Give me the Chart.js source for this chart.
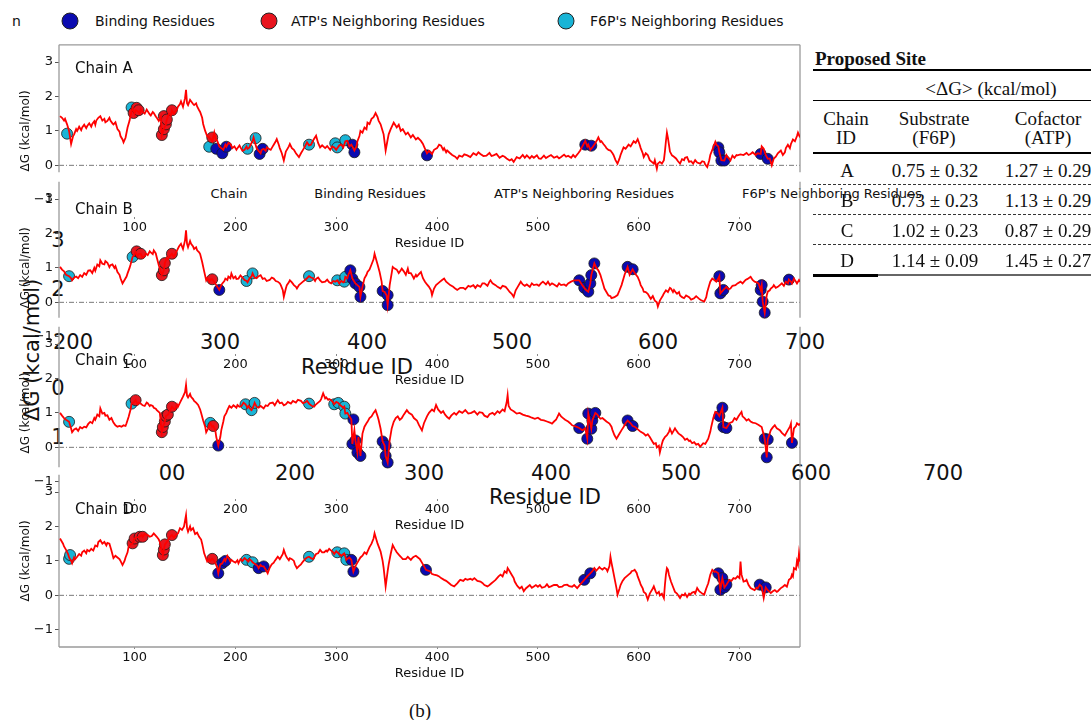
<!DOCTYPE html>
<html>
<head>
<meta charset="utf-8">
<script src="https://cdn.jsdelivr.net/npm/chart.js@4.4.1/dist/chart.umd.min.js"></script>
<style>
  body { margin: 0; width: 1091px; height: 720px; overflow: hidden; background: #fff; position: relative;
         font-family: "DejaVu Sans", sans-serif; color: #111; }
  canvas { position: absolute; left: 0; }
  .t { position: absolute; white-space: nowrap; transform: translate(-50%, -50%); line-height: 1; }
  .l { position: absolute; white-space: nowrap; transform: translate(0, -50%); line-height: 1; }
  .dot { position: absolute; width: 15px; height: 15px; border-radius: 50%; border: 1px solid #222; transform: translate(-50%, -50%); }
  .big { font-size: 21px; }
  .serif { font-family: "Liberation Serif", "Times New Roman", serif; font-size: 19px; }
  .rule { position: absolute; left: 813px; width: 278px; }
</style>
</head>
<body>
<!-- top legend -->
<div class="l" style="left:12px;top:21px;font-size:14px">n</div>
<div class="dot" style="left:70px;top:21px;background:#0b0bb0"></div>
<div class="l" style="left:95px;top:21px;font-size:14px">Binding Residues</div>
<div class="dot" style="left:269px;top:21px;background:#e8141e"></div>
<div class="l" style="left:291px;top:21px;font-size:14px">ATP's Neighboring Residues</div>
<div class="dot" style="left:566px;top:21px;background:#19b4d6"></div>
<div class="l" style="left:590px;top:21px;font-size:14px">F6P's Neighboring Residues</div>

<!-- stray legend row and oversized labels left over in the figure -->
<div class="t" style="left:229px;top:193px;font-size:13px">Chain</div>
<div class="t" style="left:370px;top:193px;font-size:13px">Binding Residues</div>
<div class="t" style="left:584px;top:193px;font-size:13px">ATP's Neighboring Residues</div>
<div class="t" style="left:832px;top:193px;font-size:13px">F6P's Neighboring Residues</div>

<div class="t big" style="left:58px;top:240px">3</div>
<div class="t big" style="left:58px;top:289px">2</div>
<div class="t big" style="left:58px;top:388px">0</div>
<div class="t big" style="left:58px;top:437px">1</div>
<div class="t big" style="left:32px;top:350px;transform:translate(-50%,-50%) rotate(-90deg)">ΔG (kcal/mol)</div>
<div class="t big" style="left:73px;top:342px">200</div>
<div class="t big" style="left:220px;top:342px">300</div>
<div class="t big" style="left:367px;top:342px">400</div>
<div class="t big" style="left:512px;top:342px">500</div>
<div class="t big" style="left:658px;top:342px">600</div>
<div class="t big" style="left:805px;top:342px">700</div>
<div class="t big" style="left:357px;top:367px">Residue ID</div>
<div class="t big" style="left:172px;top:473px">00</div>
<div class="t big" style="left:295px;top:473px">200</div>
<div class="t big" style="left:424px;top:473px">300</div>
<div class="t big" style="left:551px;top:473px">400</div>
<div class="t big" style="left:681px;top:473px">500</div>
<div class="t big" style="left:811px;top:473px">600</div>
<div class="t big" style="left:943px;top:473px">700</div>
<div class="t big" style="left:545px;top:497px">Residue ID</div>

<canvas id="cA" width="810" height="227" style="top:35px"></canvas>
<canvas id="cB" width="810" height="227" style="top:172px"></canvas>
<canvas id="cC" width="810" height="227" style="top:317px"></canvas>
<canvas id="cD" width="810" height="227" style="top:465px"></canvas>

<!-- table -->
<div class="l serif" style="left:815px;top:58px;font-weight:bold">Proposed Site</div>
<div class="rule" style="top:69px;height:1.5px;background:#000"></div>
<div class="t serif" style="left:991px;top:88px">&lt;ΔG&gt; (kcal/mol)</div>
<div class="rule" style="top:100px;height:1px;background:#000"></div>
<div class="t serif" style="left:846px;top:118px">Chain</div>
<div class="t serif" style="left:846px;top:137px">ID</div>
<div class="t serif" style="left:934px;top:118px">Substrate</div>
<div class="t serif" style="left:934px;top:137px">(F6P)</div>
<div class="t serif" style="left:1048px;top:118px">Cofactor</div>
<div class="t serif" style="left:1048px;top:137px">(ATP)</div>
<div class="rule" style="top:152px;height:1.5px;background:#000"></div>
<div id="rows"></div>
<div style="position:absolute;left:813px;top:274px;width:65px;height:2.5px;background:#000"></div>
<div style="position:absolute;left:878px;top:274px;width:213px;height:2px;background:#666"></div>

<div class="t serif" style="left:420px;top:710px">(b)</div>

<script>
// ΔG profile per chain: [residue, ΔG (kcal/mol)]
const lineA = [[26,1.43],[28,1.38],[30,1.3],[31,1.35],[33,1.19],[35,1.0],[37,0.62],[39,0.85],[40,0.9],[42,1.05],[43,1.0],[45,1.12],[47,1.02],[48,1.1],[50,1.18],[52,1.08],[53,1.14],[55,1.22],[57,1.12],[58,1.2],[60,1.28],[61,1.18],[62,1.3],[64,1.38],[66,1.43],[68,1.3],[70,1.35],[71,1.25],[73,1.29],[75,1.38],[76,1.3],[78,1.22],[79,1.19],[81,1.25],[83,1.05],[85,0.98],[86,0.85],[88,0.75],[89,0.67],[91,0.8],[93,1.1],[95,1.3],[96,1.45],[98,1.67],[100,1.5],[101,1.6],[103,1.57],[105,1.5],[106,1.62],[108,1.55],[110,1.5],[112,1.62],[113,1.57],[115,1.48],[116,1.45],[118,1.55],[119,1.52],[121,1.42],[122,1.38],[124,1.29],[126,1.4],[127,0.88],[129,1.05],[131,1.19],[132,1.33],[134,1.5],[136,1.45],[137,1.6],[139,1.5],[140,1.55],[142,1.62],[143,1.7],[145,1.78],[146,1.86],[148,1.7],[150,1.95],[151,2.19],[152,1.8],[153,1.75],[155,1.9],[156,1.86],[158,1.78],[159,1.75],[161,1.8],[162,1.71],[164,1.6],[165,1.55],[167,1.38],[168,1.2],[170,1.0],[172,0.85],[174,0.81],[176,0.75],[177,0.7],[179,0.95],[180,0.8],[182,0.71],[184,0.55],[186,0.5],[188,0.45],[190,0.6],[191,0.54],[193,0.65],[195,0.62],[197,0.5],[199,0.55],[201,0.45],[202,0.5],[204,0.58],[205,0.52],[207,0.42],[209,0.45],[211,0.55],[212,0.48],[214,0.52],[215,0.6],[217,0.7],[218,0.81],[220,0.6],[221,0.5],[223,0.42],[225,0.35],[226,0.45],[228,0.48],[230,0.42],[231,0.52],[233,0.48],[235,0.45],[237,0.55],[238,0.6],[240,0.7],[241,0.76],[243,0.6],[244,0.5],[246,0.35],[248,0.14],[250,0.4],[251,0.45],[253,0.55],[254,0.62],[256,0.5],[258,0.45],[260,0.35],[263,0.24],[265,0.35],[267,0.45],[269,0.55],[271,0.67],[273,0.58],[275,0.6],[277,0.72],[280,0.86],[282,0.65],[284,0.52],[286,0.58],[289,0.5],[291,0.56],[294,0.45],[296,0.55],[298,0.52],[300,0.45],[301,0.5],[303,0.58],[305,0.6],[307,0.52],[309,0.7],[311,0.71],[313,0.55],[315,0.6],[318,0.43],[320,0.55],[321,0.7],[323,0.85],[324,1.0],[326,0.95],[328,1.1],[330,1.05],[331,1.24],[333,1.2],[335,1.35],[337,1.4],[339,1.52],[341,1.4],[342,1.3],[344,1.19],[346,1.0],[347,0.9],[349,0.43],[351,0.75],[352,0.9],[354,1.05],[357,1.24],[359,1.15],[360,1.1],[362,1.18],[364,1.0],[366,1.05],[369,0.9],[371,0.95],[374,0.81],[376,0.88],[379,0.75],[381,0.8],[384,0.71],[386,0.62],[387,0.55],[390,0.35],[392,0.42],[395,0.33],[397,0.45],[400,0.5],[402,0.6],[404,0.57],[406,0.45],[407,0.5],[409,0.38],[410,0.43],[413,0.35],[415,0.3],[418,0.25],[420,0.19],[422,0.28],[425,0.25],[427,0.32],[430,0.29],[433,0.24],[436,0.35],[439,0.3],[441,0.38],[443,0.33],[446,0.27],[449,0.28],[452,0.36],[454,0.27],[456,0.29],[459,0.33],[462,0.22],[465,0.28],[467,0.25],[469,0.2],[472,0.14],[474,0.18],[476,0.1],[479,0.24],[482,0.2],[485,0.3],[487,0.22],[489,0.29],[492,0.2],[494,0.27],[496,0.22],[499,0.29],[501,0.2],[503,0.19],[506,0.28],[508,0.21],[510,0.25],[513,0.3],[516,0.22],[519,0.26],[521,0.2],[523,0.24],[526,0.31],[528,0.25],[530,0.28],[533,0.22],[535,0.3],[537,0.24],[540,0.35],[542,0.43],[545,0.6],[547,0.71],[549,0.55],[550,0.6],[552,0.45],[554,0.52],[557,0.65],[559,0.75],[560,0.81],[562,0.68],[563,0.7],[565,0.62],[567,0.55],[568,0.5],[570,0.45],[572,0.43],[574,0.35],[575,0.3],[577,0.15],[579,0.05],[581,0.2],[582,0.3],[584,0.45],[585,0.52],[587,0.48],[590,0.6],[592,0.55],[595,0.7],[597,0.65],[599,0.76],[601,0.6],[602,0.5],[604,0.35],[605,0.24],[607,0.35],[609,0.3],[611,0.15],[613,0.1],[615,0.05],[616,0.15],[618,-0.1],[619,0.05],[621,0.1],[623,0.05],[625,0.15],[626,0.4],[627,0.7],[628,0.95],[629,0.8],[630,0.6],[631,0.4],[633,0.29],[635,0.25],[637,0.2],[639,0.12],[641,0.05],[643,0.18],[645,0.15],[646,0.22],[648,0.24],[650,0.1],[652,0.12],[654,0.05],[656,0.15],[658,0.08],[661,0.05],[663,0.12],[665,0.1],[666,0.02],[668,-0.05],[670,0.15],[671,0.3],[673,0.45],[674,0.52],[676,0.68],[677,0.6],[679,0.55],[680,0.38],[682,0.15],[685,0.14],[687,0.3],[688,0.25],[690,0.18],[691,0.14],[693,0.28],[695,0.22],[697,0.3],[698,0.29],[701,0.32],[704,0.3],[707,0.36],[709,0.3],[711,0.33],[713,0.38],[716,0.3],[718,0.35],[721,0.33],[722,0.55],[724,0.48],[726,0.3],[728,0.19],[730,0.2],[732,0.0],[734,0.2],[736,0.25],[738,0.35],[741,0.43],[743,0.3],[745,0.38],[746,0.5],[748,0.6],[750,0.5],[751,0.62],[753,0.75],[755,0.7],[757,0.85],[758,0.95],[760,0.81]];
const lineB = [[26,1.03],[28,0.95],[30,0.9],[32,0.8],[35,0.76],[37,0.7],[38,0.64],[40,0.72],[42,0.75],[44,0.7],[46,0.79],[48,0.74],[50,0.85],[52,0.8],[54,0.92],[56,0.93],[58,0.85],[60,1.0],[61,0.92],[63,1.1],[65,1.05],[66,1.22],[68,1.12],[70,1.1],[71,1.2],[73,1.15],[75,1.02],[76,1.08],[78,1.1],[80,1.0],[81,1.05],[83,0.88],[85,0.8],[86,0.7],[88,0.55],[90,0.65],[92,0.75],[93,0.84],[95,1.0],[96,1.1],[98,1.32],[100,1.38],[101,1.46],[103,1.35],[104,1.4],[106,1.41],[108,1.3],[110,1.35],[111,1.42],[113,1.37],[115,1.48],[116,1.45],[118,1.4],[119,1.51],[121,1.42],[122,1.3],[124,1.08],[127,0.79],[129,0.93],[130,1.14],[132,1.3],[133,1.25],[135,1.35],[137,1.41],[139,1.32],[141,1.45],[142,1.5],[144,1.62],[146,1.7],[148,1.55],[150,1.8],[151,2.09],[152,1.7],[153,1.6],[155,1.78],[156,1.7],[158,1.62],[159,1.55],[161,1.6],[162,1.51],[164,1.45],[165,1.4],[167,1.17],[169,0.9],[171,0.64],[172,0.7],[174,0.6],[175,0.66],[177,0.67],[179,0.6],[180,0.55],[182,0.45],[184,0.36],[186,0.5],[187,0.55],[189,0.62],[190,0.69],[192,0.65],[193,0.75],[195,0.7],[196,0.84],[198,0.7],[200,0.75],[201,0.68],[203,0.69],[205,0.78],[207,0.72],[209,0.65],[211,0.62],[212,0.58],[214,0.7],[216,0.75],[217,0.84],[219,0.72],[221,0.7],[223,0.76],[225,0.79],[227,0.68],[229,0.7],[231,0.62],[234,0.65],[236,0.72],[238,0.69],[240,0.62],[242,0.6],[244,0.55],[245,0.5],[247,0.35],[248,0.16],[250,0.4],[251,0.5],[253,0.58],[254,0.64],[256,0.58],[258,0.5],[260,0.45],[261,0.4],[263,0.5],[265,0.55],[267,0.6],[269,0.65],[271,0.7],[273,0.76],[275,0.72],[277,0.7],[279,0.62],[280,0.68],[282,0.72],[284,0.64],[286,0.58],[289,0.6],[291,0.66],[293,0.58],[295,0.55],[297,0.62],[299,0.6],[301,0.64],[303,0.55],[305,0.62],[307,0.58],[308,0.6],[309,0.74],[311,0.7],[312,0.8],[314,0.93],[316,0.69],[319,0.55],[321,0.5],[323,0.45],[324,0.16],[326,0.45],[328,0.7],[330,0.8],[331,0.88],[333,0.95],[335,1.1],[337,1.25],[338,1.41],[340,1.2],[341,1.1],[343,0.88],[345,0.6],[346,0.33],[348,0.3],[350,0.2],[351,-0.08],[353,0.5],[355,0.85],[356,1.03],[358,0.98],[360,0.95],[362,0.85],[364,0.93],[365,0.98],[367,0.9],[369,0.8],[371,0.98],[372,0.85],[374,0.85],[376,0.75],[377,0.69],[379,0.8],[380,0.75],[382,0.82],[384,0.88],[386,0.7],[388,0.6],[390,0.52],[392,0.45],[394,0.35],[395,0.21],[397,0.4],[399,0.5],[401,0.55],[403,0.6],[405,0.65],[407,0.69],[409,0.6],[411,0.55],[413,0.5],[416,0.45],[418,0.4],[420,0.36],[423,0.42],[426,0.42],[428,0.38],[431,0.48],[433,0.45],[436,0.5],[438,0.42],[440,0.5],[443,0.45],[445,0.55],[447,0.55],[450,0.48],[452,0.6],[453,0.64],[455,0.55],[458,0.5],[460,0.45],[463,0.4],[465,0.48],[468,0.45],[470,0.38],[472,0.3],[474,0.25],[476,0.16],[478,0.35],[480,0.45],[483,0.6],[485,0.52],[487,0.48],[489,0.52],[492,0.45],[494,0.55],[496,0.5],[499,0.52],[501,0.48],[503,0.55],[505,0.6],[508,0.52],[510,0.6],[512,0.5],[514,0.55],[516,0.52],[519,0.46],[521,0.55],[523,0.5],[526,0.52],[528,0.48],[530,0.55],[533,0.6],[536,0.64],[541,0.64],[544,0.5],[546,0.42],[548,0.35],[550,0.31],[552,0.55],[553,0.79],[556,1.13],[558,1.0],[560,0.93],[562,0.8],[563,0.7],[565,0.5],[566,0.4],[568,0.3],[570,0.2],[572,0.18],[573,0.12],[576,0.15],[579,0.21],[581,0.35],[583,0.5],[585,0.7],[586,0.8],[589,1.03],[591,0.8],[594,0.96],[596,0.85],[599,0.74],[601,0.6],[602,0.5],[604,0.4],[605,0.31],[607,0.3],[609,0.25],[611,0.15],[612,0.1],[614,0.18],[616,0.05],[618,0.0],[619,-0.12],[621,0.05],[622,0.1],[624,0.2],[625,0.26],[627,0.35],[629,0.3],[631,0.42],[632,0.4],[634,0.3],[635,0.36],[637,0.28],[638,0.25],[640,0.3],[641,0.2],[643,0.15],[645,0.12],[647,0.2],[650,0.15],[652,0.08],[655,0.12],[657,0.18],[660,0.1],[662,0.06],[665,0.02],[667,0.15],[668,0.3],[670,0.5],[671,0.6],[673,0.69],[675,0.65],[677,0.6],[679,0.7],[680,0.76],[681,0.26],[684,0.36],[686,0.42],[687,0.45],[689,0.38],[691,0.4],[693,0.48],[696,0.5],[698,0.55],[701,0.6],[703,0.55],[706,0.65],[708,0.68],[711,0.74],[713,0.65],[715,0.6],[717,0.58],[719,0.55],[721,0.36],[722,0.5],[723,0.02],[725,-0.3],[727,0.2],[728,0.31],[730,0.35],[731,0.4],[733,0.45],[734,0.5],[736,0.42],[738,0.45],[740,0.5],[742,0.55],[744,0.48],[746,0.6],[748,0.55],[749,0.66],[751,0.6],[752,0.55],[754,0.69],[756,0.6],[757,0.55],[759,0.65],[760,0.6]];
const lineC = [[26,1.0],[28,0.92],[30,0.85],[32,0.8],[35,0.74],[37,0.55],[38,0.44],[40,0.52],[42,0.55],[44,0.48],[46,0.59],[48,0.55],[50,0.6],[52,0.58],[54,0.68],[56,0.74],[58,0.7],[60,0.85],[61,0.8],[63,0.95],[65,0.9],[66,1.13],[68,0.98],[70,1.0],[71,0.92],[73,0.93],[75,0.8],[77,0.85],[79,0.72],[81,0.64],[83,0.6],[85,0.62],[87,0.6],[89,0.64],[91,0.62],[92,0.7],[94,0.88],[96,1.1],[97,1.27],[99,1.3],[101,1.37],[103,1.25],[104,1.3],[106,1.27],[108,1.22],[110,1.2],[112,1.3],[113,1.28],[115,1.2],[116,1.23],[118,1.2],[119,1.15],[121,1.12],[122,1.08],[125,1.0],[127,0.44],[128,0.59],[130,0.75],[131,0.91],[133,0.95],[135,1.05],[137,1.18],[139,1.12],[140,1.1],[142,1.25],[143,1.18],[145,1.3],[148,1.47],[150,1.6],[151,1.81],[152,1.5],[153,1.45],[155,1.55],[156,1.47],[158,1.4],[159,1.35],[161,1.3],[163,1.23],[165,1.1],[166,1.0],[168,0.78],[170,0.6],[171,0.44],[173,0.55],[175,0.71],[177,0.6],[178,0.62],[180,0.5],[181,0.3],[183,0.05],[185,0.3],[186,0.5],[188,0.75],[189,0.9],[191,1.0],[192,1.08],[194,1.2],[196,1.15],[198,1.22],[199,1.2],[201,1.15],[202,1.23],[204,1.18],[206,1.2],[208,1.3],[210,1.25],[212,1.15],[213,1.2],[215,1.1],[216,1.08],[218,1.2],[219,1.29],[221,1.18],[223,1.15],[225,1.2],[228,1.13],[230,1.22],[232,1.2],[234,1.28],[237,1.3],[239,1.22],[242,1.37],[244,1.28],[246,1.3],[248,1.22],[250,1.25],[252,1.32],[255,1.27],[257,1.35],[260,1.3],[262,1.38],[265,1.35],[267,1.28],[269,1.3],[271,1.35],[273,1.27],[275,1.22],[276,1.2],[278,1.18],[280,1.25],[282,1.3],[284,1.35],[285,1.4],[287,1.57],[289,1.42],[290,1.45],[292,1.38],[293,1.4],[295,1.37],[297,1.3],[298,1.25],[300,1.32],[302,1.29],[304,1.22],[305,1.2],[307,1.15],[308,1.18],[309,0.98],[311,1.0],[313,0.9],[315,0.81],[316,0.1],[318,0.5],[319,0.2],[321,-0.15],[322,0.3],[324,-0.25],[326,0.4],[328,0.6],[330,0.7],[331,0.74],[333,0.85],[335,0.9],[337,1.0],[339,1.08],[341,0.9],[342,0.8],[344,0.54],[346,0.17],[348,0.05],[349,-0.25],[351,-0.44],[353,0.2],[355,0.55],[357,0.74],[359,0.85],[361,0.9],[363,0.8],[365,0.85],[367,0.95],[370,1.08],[372,1.0],[375,0.95],[377,0.85],[380,0.78],[382,0.65],[385,0.49],[387,0.7],[390,0.9],[392,1.0],[395,1.1],[397,1.05],[399,1.23],[401,1.1],[404,1.0],[406,1.05],[408,0.95],[410,0.88],[412,0.83],[414,0.92],[417,1.0],[419,0.95],[422,1.05],[425,1.0],[428,1.08],[431,0.98],[434,1.0],[437,1.05],[440,0.95],[442,1.02],[445,1.0],[447,0.92],[450,0.88],[452,0.96],[455,1.0],[457,0.95],[460,1.05],[462,1.0],[465,1.1],[467,1.05],[468,1.18],[469,1.3],[470,1.52],[471,1.2],[473,1.1],[476,1.05],[479,0.98],[482,1.0],[485,0.95],[488,0.92],[491,0.9],[494,0.86],[497,0.83],[500,0.86],[503,0.8],[506,0.78],[509,0.75],[512,0.72],[514,0.69],[516,0.75],[518,0.8],[521,0.98],[523,0.9],[525,0.85],[527,0.8],[530,0.75],[532,0.7],[534,0.64],[536,0.62],[538,0.6],[541,0.56],[544,0.5],[547,0.55],[549,0.25],[550,0.98],[553,0.54],[554,0.78],[557,1.0],[559,0.95],[560,0.9],[562,0.83],[564,0.85],[566,0.8],[568,0.75],[571,0.69],[573,0.6],[574,0.5],[576,0.35],[578,0.25],[580,0.35],[581,0.4],[583,0.5],[585,0.59],[587,0.7],[589,0.78],[592,0.7],[594,0.62],[596,0.6],[598,0.55],[600,0.5],[602,0.45],[605,0.4],[607,0.34],[609,0.38],[611,0.3],[613,0.2],[615,0.1],[617,0.12],[618,0.0],[620,0.05],[621,-0.15],[623,0.1],[624,0.2],[626,0.3],[628,0.35],[630,0.45],[631,0.54],[633,0.4],[634,0.45],[636,0.55],[637,0.5],[639,0.42],[640,0.39],[642,0.35],[644,0.3],[646,0.22],[648,0.25],[650,0.18],[651,0.2],[653,0.12],[655,0.15],[657,0.08],[659,0.1],[661,0.02],[662,0.05],[664,0.12],[666,0.1],[668,0.2],[669,0.25],[671,0.45],[672,0.6],[674,0.85],[676,1.03],[678,1.0],[680,0.91],[683,1.15],[684,0.59],[687,0.56],[689,0.65],[690,0.7],[693,0.74],[695,0.85],[697,0.8],[699,0.9],[702,1.03],[703,0.9],[705,0.85],[707,0.78],[709,0.82],[711,0.75],[713,0.72],[716,0.7],[719,0.65],[722,0.59],[725,0.25],[727,-0.29],[728,0.23],[730,0.4],[731,0.5],[733,0.58],[735,0.64],[737,0.55],[740,0.5],[742,0.42],[745,0.34],[747,0.45],[748,0.5],[750,0.6],[751,0.69],[752,0.13],[754,0.55],[756,0.62],[757,0.7],[759,0.65],[760,0.69]];
const lineD = [[26,1.65],[27,1.6],[29,1.5],[30,1.42],[32,1.32],[34,1.2],[35,1.1],[37,1.0],[38,0.93],[40,1.1],[41,1.05],[43,1.12],[45,1.2],[47,1.15],[48,1.25],[50,1.3],[52,1.22],[53,1.32],[55,1.28],[57,1.35],[59,1.3],[61,1.45],[63,1.42],[64,1.55],[66,1.6],[68,1.5],[70,1.55],[72,1.45],[73,1.52],[75,1.5],[77,1.3],[79,1.08],[81,1.15],[83,1.1],[85,1.05],[86,1.0],[88,0.88],[90,1.0],[91,1.1],[93,1.25],[94,1.41],[96,1.48],[98,1.51],[100,1.65],[102,1.68],[105,1.7],[107,1.75],[108,1.7],[110,1.78],[113,1.75],[115,1.7],[117,1.72],[119,1.8],[122,1.7],[124,1.62],[125,1.55],[128,1.17],[130,1.48],[132,1.55],[133,1.6],[135,1.7],[137,1.75],[139,1.68],[140,1.72],[142,1.78],[143,1.8],[145,1.95],[147,1.9],[149,2.0],[151,2.33],[152,1.95],[153,1.85],[155,2.0],[156,1.89],[158,1.95],[160,1.78],[162,1.82],[164,1.7],[166,1.62],[167,1.5],[169,1.22],[172,0.98],[174,1.05],[175,1.0],[177,1.06],[179,1.0],[180,0.95],[182,0.8],[183,0.64],[185,0.9],[187,0.93],[189,1.05],[190,1.0],[192,1.15],[193,1.1],[195,0.98],[196,1.03],[198,0.98],[200,0.95],[202,1.02],[203,0.93],[205,1.05],[207,1.0],[209,1.08],[211,1.03],[213,0.98],[214,1.05],[216,1.0],[217,0.96],[219,0.92],[220,0.9],[222,0.85],[223,0.79],[225,0.88],[226,0.85],[228,0.84],[230,0.75],[232,0.64],[234,0.8],[236,0.9],[238,0.95],[239,1.0],[241,1.08],[242,1.12],[244,1.05],[245,1.1],[247,1.2],[248,1.32],[250,1.15],[251,1.1],[253,1.02],[254,1.08],[256,1.05],[258,1.0],[259,0.9],[261,0.79],[263,0.85],[265,0.9],[267,0.98],[269,1.05],[271,1.1],[273,1.12],[275,1.08],[277,1.05],[279,1.15],[280,1.2],[282,1.22],[284,1.32],[286,1.25],[288,1.25],[290,1.3],[291,1.27],[293,1.35],[295,1.3],[297,1.25],[298,1.2],[300,1.28],[301,1.25],[303,1.2],[305,1.15],[307,1.2],[308,1.22],[310,1.03],[312,1.08],[313,1.1],[315,1.03],[317,0.69],[319,0.85],[320,0.9],[322,1.0],[324,1.1],[326,1.15],[328,1.25],[330,1.2],[331,1.27],[333,1.4],[335,1.5],[337,1.65],[338,1.8],[340,1.6],[341,1.5],[343,1.35],[344,1.27],[346,1.0],[347,0.8],[349,0.26],[351,0.7],[352,0.9],[354,1.2],[356,1.46],[358,1.35],[360,1.25],[362,1.18],[364,1.12],[366,1.05],[369,1.05],[371,1.12],[374,1.03],[376,1.1],[377,1.12],[379,1.15],[381,1.1],[383,1.05],[385,0.95],[387,0.85],[389,0.74],[391,0.72],[393,0.7],[395,0.62],[397,0.6],[400,0.58],[402,0.55],[404,0.5],[407,0.45],[409,0.42],[412,0.35],[414,0.3],[417,0.26],[419,0.32],[420,0.35],[422,0.42],[423,0.45],[426,0.42],[428,0.48],[430,0.45],[433,0.48],[435,0.45],[437,0.5],[440,0.42],[443,0.4],[445,0.36],[447,0.3],[450,0.26],[452,0.3],[454,0.35],[456,0.4],[458,0.45],[461,0.55],[463,0.6],[465,0.55],[467,0.7],[469,0.65],[470,0.79],[472,0.7],[474,0.6],[476,0.5],[477,0.4],[479,0.3],[480,0.26],[482,0.2],[484,0.25],[486,0.12],[488,0.2],[490,0.25],[492,0.3],[494,0.22],[496,0.26],[498,0.3],[500,0.25],[502,0.3],[504,0.22],[507,0.25],[509,0.32],[511,0.24],[513,0.26],[516,0.3],[519,0.3],[521,0.24],[524,0.25],[526,0.3],[529,0.31],[531,0.27],[534,0.25],[536,0.3],[539,0.21],[541,0.28],[543,0.35],[546,0.45],[549,0.55],[552,0.64],[554,0.7],[556,0.79],[558,0.72],[559,0.75],[561,0.82],[562,0.79],[564,0.75],[566,0.8],[568,0.76],[569,0.7],[571,0.85],[572,1.12],[573,0.95],[574,0.8],[576,0.5],[578,0.2],[579,0.02],[581,0.2],[582,0.3],[584,0.42],[586,0.5],[588,0.55],[590,0.6],[592,0.65],[593,0.7],[595,0.72],[596,0.74],[598,0.65],[599,0.55],[601,0.4],[602,0.31],[604,0.2],[605,0.1],[607,0.05],[609,-0.12],[611,0.05],[612,0.1],[614,0.2],[615,0.26],[617,0.1],[618,0.05],[620,0.1],[621,0.0],[623,0.05],[625,-0.08],[626,0.3],[627,0.6],[628,0.79],[629,0.75],[630,0.6],[632,0.4],[634,0.25],[636,0.1],[638,0.05],[641,-0.08],[643,0.02],[645,0.0],[646,0.05],[648,-0.05],[650,0.05],[651,0.02],[653,0.08],[655,0.1],[656,0.05],[658,0.21],[660,0.12],[661,0.1],[663,0.05],[665,0.02],[667,0.2],[669,0.35],[671,0.6],[673,0.74],[675,0.68],[676,0.7],[679,0.64],[681,0.16],[683,0.5],[685,0.23],[687,0.31],[689,0.4],[690,0.45],[692,0.42],[694,0.5],[696,0.48],[698,0.55],[700,0.5],[701,0.98],[702,0.6],[704,0.4],[706,0.42],[707,0.45],[709,0.3],[711,0.21],[713,0.18],[715,0.15],[717,0.22],[718,0.2],[720,0.31],[722,0.25],[724,-0.08],[726,0.23],[728,0.15],[730,0.1],[731,0.07],[733,0.12],[735,0.15],[737,0.1],[738,0.12],[740,0.18],[741,0.21],[743,0.25],[745,0.3],[747,0.25],[749,0.45],[751,0.5],[752,0.6],[753,0.55],[754,0.79],[756,0.75],[757,1.0],[758,0.9],[759,1.22],[760,0.98]];

// highlighted residues: [residue, ΔG]
const bindA = [[181,0.48],[187,0.35],[191,0.54],[224,0.33],[227,0.48],[316,0.6],[318,0.38],[390,0.29],[547,0.6],[553,0.57],[679,0.52],[680,0.38],[682,0.14],[685,0.14],[721,0.33],[728,0.19]];
const atpA  = [[99,1.52],[102,1.67],[104,1.6],[127,0.88],[129,1.05],[129,1.43],[131,1.19],[132,1.33],[137,1.6],[177,0.81]];
const f6pA  = [[33,0.92],[97,1.68],[174,0.54],[212,0.48],[220,0.79],[273,0.6],[299,0.64],[301,0.52],[309,0.73]];
const bindB = [[184,0.36],[314,0.93],[316,0.69],[319,0.55],[323,0.45],[324,0.16],[346,0.33],[351,0.21],[351,-0.08],[541,0.64],[546,0.42],[550,0.31],[552,0.55],[553,0.79],[556,1.13],[589,1.03],[594,0.96],[680,0.76],[681,0.26],[684,0.36],[721,0.36],[722,0.5],[723,0.02],[725,-0.3],[749,0.66]];
const atpB  = [[102,1.48],[106,1.41],[127,0.79],[129,0.93],[130,1.14],[137,1.41],[177,0.67]];
const f6pB  = [[35,0.76],[98,1.32],[211,0.62],[217,0.84],[273,0.76],[301,0.64],[308,0.6],[309,0.74]];
const bindC = [[183,0.05],[317,0.81],[316,0.1],[319,0.2],[321,-0.15],[324,-0.25],[346,0.17],[349,0.05],[349,-0.25],[351,-0.44],[541,0.56],[549,0.25],[550,0.98],[553,0.54],[554,0.78],[557,1.0],[589,0.78],[594,0.62],[680,0.91],[683,1.15],[684,0.59],[687,0.56],[725,0.25],[728,0.23],[727,-0.29],[752,0.13]];
const atpC  = [[101,1.37],[127,0.44],[128,0.59],[130,0.75],[131,0.91],[133,0.95],[137,1.18],[178,0.62]];
const f6pC  = [[35,0.74],[97,1.27],[175,0.71],[210,1.25],[216,1.08],[219,1.29],[273,1.27],[298,1.25],[302,1.29],[308,1.18],[309,0.98]];
const bindD = [[183,0.64],[187,0.93],[190,1.0],[223,0.79],[228,0.84],[315,1.03],[317,0.69],[389,0.74],[546,0.45],[552,0.64],[679,0.64],[681,0.16],[683,0.5],[685,0.23],[687,0.31],[720,0.31],[726,0.23]];
const atpD  = [[98,1.51],[100,1.65],[105,1.7],[108,1.7],[128,1.17],[129,1.33],[130,1.48],[137,1.75],[177,1.06]];
const f6pD  = [[35,1.06],[36,1.17],[211,1.03],[217,0.96],[273,1.12],[301,1.25],[308,1.22],[310,1.03]];

const xTicks = [100, 200, 300, 400, 500, 600, 700];
const yTicks = [-1, 0, 1, 2, 3];

// table values
const tableChains = ["A", "B", "C", "D"];
const substrateDG = ["0.75 ± 0.32", "0.73 ± 0.23", "1.02 ± 0.23", "1.14 ± 0.09"];
const cofactorDG  = ["1.27 ± 0.29", "1.13 ± 0.29", "0.87 ± 0.29", "1.45 ± 0.27"];

const BLUE = "#0b0bb0", RED = "#e8141e", CYAN = "#19b4d6";

// zero line, spines and the chain name
const panelDeco = {
  id: "panelDeco",
  beforeDatasetsDraw(chart, args, o) {
    const { ctx, chartArea: a, scales: { y } } = chart;
    ctx.save();
    const y0 = y.getPixelForValue(0);
    ctx.strokeStyle = "#555";
    ctx.lineWidth = 0.8;
    ctx.setLineDash([5, 2, 1, 2]);
    ctx.beginPath();
    ctx.moveTo(a.left, y0);
    ctx.lineTo(a.right, y0);
    ctx.stroke();
    ctx.setLineDash([]);

    ctx.strokeStyle = "#9a9a9a";
    ctx.lineWidth = 1.3;
    const yEnd = y.getPixelForValue(o.spineEnd);
    ctx.beginPath();
    ctx.moveTo(a.left, a.top); ctx.lineTo(a.left, yEnd);
    ctx.moveTo(a.right, a.top); ctx.lineTo(a.right, yEnd);
    if (o.top) { ctx.moveTo(a.left, a.top); ctx.lineTo(a.right, a.top); }
    if (o.bottom) { ctx.moveTo(a.left, a.bottom); ctx.lineTo(a.right, a.bottom); }
    ctx.stroke();

    ctx.fillStyle = "#111";
    ctx.font = '15px "DejaVu Sans"';
    ctx.textBaseline = "middle";
    ctx.fillText(o.name, a.left + 16, y.getPixelForValue(o.labelAt));
    ctx.restore();
  }
};

const toPts = (arr) => arr.map(([x, y]) => ({ x, y }));
const tickFont = { family: "DejaVu Sans", size: 13 };

function markers(pts, color, order) {
  return {
    type: "scatter",
    data: toPts(pts),
    backgroundColor: color,
    borderColor: "#1a1a1a",
    borderWidth: 0.8,
    pointRadius: 5.5,
    order: order
  };
}

function makePanel(id, name, line, bind, atp, f6p, deco) {
  new Chart(document.getElementById(id), {
    type: "line",
    data: {
      datasets: [
        { type: "line", data: toPts(line), borderColor: "#ff0000", borderWidth: 1.8,
          pointRadius: 0, tension: 0, order: 0 },
        markers(bind, BLUE, 1),
        markers(atp, RED, 2),
        markers(f6p, CYAN, 3)
      ]
    },
    options: {
      responsive: false,
      animation: false,
      devicePixelRatio: 1,
      events: [],
      layout: { padding: { top: 8, right: 10, left: 0, bottom: 0 } },
      plugins: {
        legend: { display: false },
        tooltip: { enabled: false },
        panelDeco: Object.assign({ name: name }, deco)
      },
      scales: {
        x: {
          type: "linear", min: 25, max: 760,
          afterFit(s) { s.height = 45; },
          afterBuildTicks(s) { s.ticks = xTicks.map(v => ({ value: v })); },
          ticks: { font: tickFont, color: "#111", padding: 1 },
          grid: { drawOnChartArea: false, drawTicks: true, tickLength: 2, color: "#888" },
          border: { display: false },
          title: { display: true, text: "Residue ID", font: tickFont, color: "#111", padding: { top: 0, bottom: 11 } }
        },
        y: {
          min: -1.5, max: 3.5,
          afterFit(s) { s.width = 59; },
          afterBuildTicks(s) { s.ticks = yTicks.map(v => ({ value: v })); },
          ticks: { font: tickFont, color: "#111", padding: 2,
                   callback: v => (v < 0 ? "\u2212" + Math.abs(v) : String(v)) },
          grid: { drawOnChartArea: false, drawTicks: true, tickLength: 4, color: "#555" },
          border: { display: false },
          title: { display: true, text: "ΔG (kcal/mol)", font: { family: "DejaVu Sans", size: 12 }, color: "#111",
                   padding: { top: 19, bottom: 0 } }
        }
      }
    },
    plugins: [panelDeco]
  });
}

makePanel("cA", "Chain A", lineA, bindA, atpA, f6pA, { labelAt: 2.8, spineEnd: -0.2, top: true, bottom: false });
makePanel("cB", "Chain B", lineB, bindB, atpB, f6pB, { labelAt: 2.67, spineEnd: -0.45, top: false, bottom: false });
makePanel("cC", "Chain C", lineC, bindC, atpC, f6pC, { labelAt: 2.5, spineEnd: -0.58, top: false, bottom: false });
makePanel("cD", "Chain D", lineD, bindD, atpD, f6pD, { labelAt: 2.48, spineEnd: -1.5, top: false, bottom: true });

// table body rows
const rowsEl = document.getElementById("rows");
const rowY = [170, 200, 230, 260];
tableChains.forEach((c, i) => {
  const cells = [[c, 847], [substrateDG[i], 935], [cofactorDG[i], 1048]];
  cells.forEach(([txt, cx]) => {
    const d = document.createElement("div");
    d.className = "t serif";
    d.style.left = cx + "px";
    d.style.top = rowY[i] + "px";
    d.textContent = txt;
    rowsEl.appendChild(d);
  });
  if (i < tableChains.length - 1) {
    const r = document.createElement("div");
    r.className = "rule";
    r.style.top = (rowY[i] + 14) + "px";
    r.style.borderTop = "1.5px dashed #333";
    rowsEl.appendChild(r);
  }
});
</script>
</body>
</html>
